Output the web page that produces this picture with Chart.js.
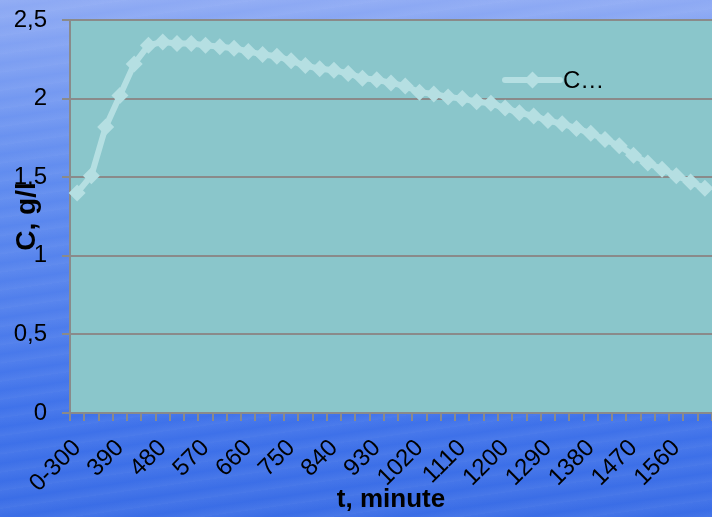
<!DOCTYPE html>
<html>
<head>
<meta charset="utf-8">
<script src="https://cdn.jsdelivr.net/npm/chart.js@4/dist/chart.umd.min.js"></script>
<style>
  html, body { margin: 0; padding: 0; }
  body {
    width: 712px; height: 517px; overflow: hidden;
    background:
      repeating-linear-gradient(172deg, rgba(255,255,255,0.05) 0px, rgba(255,255,255,0.0) 9px, rgba(255,255,255,0.07) 18px),
      linear-gradient(180deg, #8eaaf4 0%, #7c9ef2 12%, #5f8bef 35%, #4f7eec 60%, #3f72ea 80%, #3a6de6 100%);
  }
  #wrap { position: relative; width: 712px; height: 517px; }
</style>
</head>
<body>
<div id="wrap"><canvas id="c"></canvas></div>
<script>
// Concentration over time
const categories = ['0-300','330','360','390','420','450','480','510','540','570','600','630','660','690','720','750','780','810','840','870','900','930','960','990','1020','1050','1080','1110','1140','1170','1200','1230','1260','1290','1320','1350','1380','1410','1440','1470','1500','1530','1560','1590','1620'];
const concentration = [1.40,1.51,1.82,2.02,2.22,2.34,2.36,2.35,2.35,2.34,2.33,2.32,2.30,2.28,2.27,2.24,2.21,2.19,2.18,2.16,2.13,2.12,2.10,2.08,2.04,2.03,2.01,2.00,1.98,1.97,1.94,1.91,1.89,1.86,1.84,1.81,1.78,1.74,1.70,1.64,1.59,1.55,1.51,1.47,1.43];
const seriesName = 'C…';
const yTicks = [0, 0.5, 1, 1.5, 2, 2.5];
const xTitle = 't, minute';
const yTitle = 'C, g/l';

const FONT = "'Liberation Sans', Arial, sans-serif";
const LINE_COLOR = '#b5dfe2';
const GRID = '#8a8a8a';

const plotBg = {
  id: 'plotBg',
  beforeDraw(chart) {
    const { ctx, chartArea: a } = chart;
    ctx.save();
    ctx.fillStyle = '#8ac6cb';
    ctx.fillRect(a.left, a.top, a.right - a.left, a.bottom - a.top);
    ctx.restore();
  }
};

// Small legend drawn inside the plot
const innerLegend = {
  id: 'innerLegend',
  afterDatasetsDraw(chart) {
    const { ctx } = chart;
    const ds = chart.data.datasets[0];
    const x0 = 505, x1 = 560, y = 80;
    ctx.save();
    ctx.strokeStyle = ds.borderColor;
    ctx.lineWidth = 6;
    ctx.lineCap = 'round';
    ctx.beginPath(); ctx.moveTo(x0, y); ctx.lineTo(x1, y); ctx.stroke();
    ctx.fillStyle = ds.pointBackgroundColor;
    const r = 8.5, cx = (x0 + x1) / 2;
    ctx.beginPath();
    ctx.moveTo(cx, y - r); ctx.lineTo(cx + r, y); ctx.lineTo(cx, y + r); ctx.lineTo(cx - r, y);
    ctx.closePath(); ctx.fill();
    ctx.fillStyle = '#000';
    ctx.font = '24px ' + FONT;
    ctx.textBaseline = 'middle';
    ctx.fillText(ds.label, x1 + 3, y + 1);
    ctx.restore();
  }
};

new Chart(document.getElementById('c'), {
  type: 'line',
  data: {
    labels: categories,
    datasets: [{
      label: seriesName,
      data: concentration,
      borderColor: LINE_COLOR,
      backgroundColor: LINE_COLOR,
      pointBackgroundColor: LINE_COLOR,
      pointBorderWidth: 0,
      borderWidth: 6,
      pointStyle: 'rectRot',
      pointRadius: 8.5,
      tension: 0,
      clip: false
    }]
  },
  options: {
    responsive: true,
    maintainAspectRatio: false,
    animation: false,
    layout: { autoPadding: false, padding: { top: 20, right: 0, left: 0, bottom: 0 } },
    plugins: { legend: { display: false }, tooltip: { enabled: false } },
    scales: {
      x: {
        type: 'category',
        offset: true,
        grid: {
          offset: true,
          drawOnChartArea: false,
          drawTicks: true,
          tickLength: 8,
          color: GRID,
          lineWidth: 2
        },
        border: { color: GRID, width: 2 },
        ticks: {
          autoSkip: false,
          minRotation: 45,
          maxRotation: 45,
          padding: 13,
          color: '#000',
          font: { family: FONT, size: 24 },
          callback: (v, i) => (i % 3 === 0 ? categories[i] : '')
        },
        title: {
          display: true,
          text: xTitle,
          color: '#000',
          font: { family: FONT, size: 26, weight: 'bold' },
          padding: { top: 0, bottom: 2 }
        },
        afterFit(scale) {
          scale.height = 104;
          scale.paddingLeft = 0;
          scale.paddingRight = 0;
        }
      },
      y: {
        min: 0,
        max: 2.5,
        afterBuildTicks(scale) { scale.ticks = yTicks.map(v => ({ value: v })); },
        grid: { color: GRID, lineWidth: 2, tickLength: 8 },
        border: { color: GRID, width: 2 },
        ticks: {
          color: '#000',
          padding: 15,
          font: { family: FONT, size: 24 },
          callback: v => String(v).replace('.', ',')
        },
        title: {
          display: true,
          text: yTitle,
          color: '#000',
          font: { family: FONT, size: 28, weight: 'bold' },
          padding: { top: 10, bottom: 0 }
        },
        afterFit(scale) {
          scale.width = 70;
          scale.paddingTop = 0;
          scale.paddingBottom = 0;
        }
      }
    }
  },
  plugins: [plotBg, innerLegend]
});
</script>
</body>
</html>
